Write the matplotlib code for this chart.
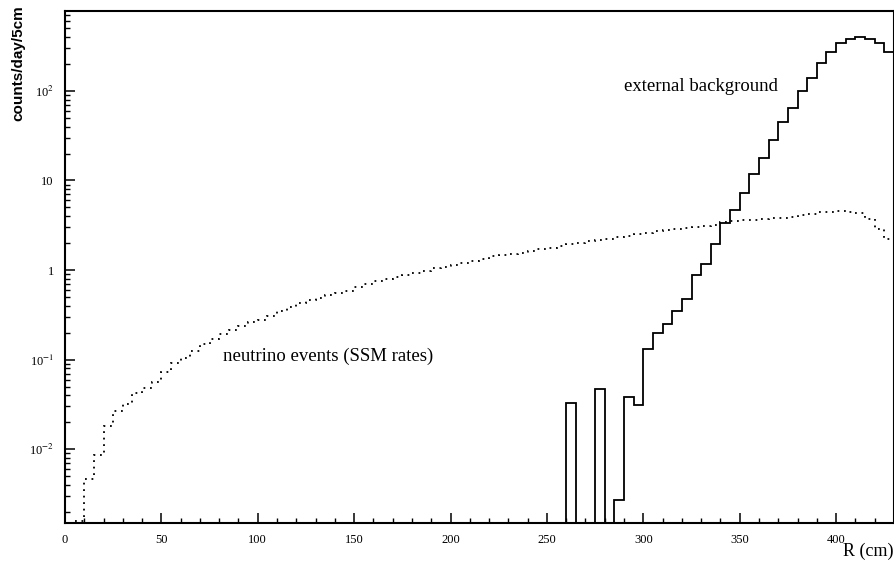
import numpy as np
import matplotlib
matplotlib.use('Agg')
import matplotlib.pyplot as plt
from matplotlib.ticker import FixedLocator, MultipleLocator, NullFormatter

plt.rcParams['font.family'] = ['Liberation Serif', 'DejaVu Serif']
plt.rcParams['mathtext.fontset'] = 'stix'

# neutrino events (SSM rates), 5 cm bins starting at R = 5 cm
nu_edges = np.arange(5, 435, 5)
nu_counts = [0.0016, 0.0046, 0.0086, 0.018, 0.027, 0.032, 0.042, 0.048, 0.057, 0.072,
             0.092, 0.104, 0.125, 0.15, 0.17, 0.195, 0.215, 0.24, 0.26, 0.28,
             0.31, 0.35, 0.39, 0.43, 0.46, 0.49, 0.53, 0.56, 0.59, 0.65,
             0.69, 0.75, 0.79, 0.84, 0.88, 0.93, 0.98, 1.05, 1.09, 1.14,
             1.2, 1.25, 1.33, 1.42, 1.47, 1.52, 1.57, 1.62, 1.7, 1.78,
             1.85, 1.95, 2.02, 2.1, 2.18, 2.25, 2.33, 2.42, 2.5, 2.58,
             2.72, 2.8, 2.88, 2.97, 3.05, 3.12, 3.2, 3.4, 3.5, 3.6,
             3.65, 3.72, 3.8, 3.85, 3.95, 4.1, 4.2, 4.4, 4.5, 4.55,
             4.5, 4.3, 3.7, 2.9, 2.2]

# external background, 5 cm bins starting at R = 255 cm
bg_edges = np.arange(255, 435, 5)
bg_counts = [0, 0.033, 0, 0, 0.047, 0, 0.0027, 0.038, 0.031, 0.13,
             0.20, 0.25, 0.35, 0.48, 0.88, 1.17, 1.96, 3.37, 4.7, 7.3,
             11.7, 18, 28, 45, 64, 100, 140, 206, 274, 346,
             384, 404, 384, 346, 274]

ytick_vals = [1e-2, 1e-1, 1, 10, 100]
ytick_labels = ['10$^{-2}$', '10$^{-1}$', '1', '10', '10$^{2}$']

fig = plt.figure(figsize=(8.95, 5.63), dpi=100)
ax = fig.add_axes([0.0726, 0.071, 0.9262, 0.9095])

tiny = 1e-6
nu = np.array(nu_counts, dtype=float)
bg = np.array(bg_counts, dtype=float)
ax.stairs(np.where(nu > 0, nu, tiny), nu_edges, baseline=None,
          color='k', lw=1.3, linestyle=(0, (1, 2.6)))
ax.stairs(np.where(bg > 0, bg, tiny), bg_edges, baseline=None,
          color='k', lw=1.3)

ax.set_yscale('log')
ax.set_xlim(0, 430)
ax.set_ylim(1.5e-3, 780)

ax.yaxis.set_major_locator(FixedLocator(ytick_vals))
ax.set_yticklabels(ytick_labels)
ax.yaxis.set_minor_formatter(NullFormatter())
ax.xaxis.set_major_locator(MultipleLocator(50))
ax.xaxis.set_minor_locator(MultipleLocator(10))

ax.tick_params(which='both', direction='in', top=False, right=False)
ax.tick_params(which='major', length=7, width=1.1, labelsize=9, pad=8)
ax.tick_params(which='minor', length=3.5, width=1.0)
for s in ax.spines.values():
    s.set_linewidth(1.5)

ax.text(290, 113, 'external background', fontsize=13.5, va='center', ha='left')
ax.text(82, 0.11, 'neutrino events (SSM rates)', fontsize=13.5, va='center', ha='left')

fig.text(0.998, 0.005, 'R (cm)', fontsize=13, ha='right', va='bottom')
fig.text(0.02, 0.99, 'counts/day/5cm', fontsize=11, rotation=90, ha='center',
         va='top', family=['Liberation Sans', 'DejaVu Sans'], fontweight='bold')

fig.savefig('out.png', dpi=100)
